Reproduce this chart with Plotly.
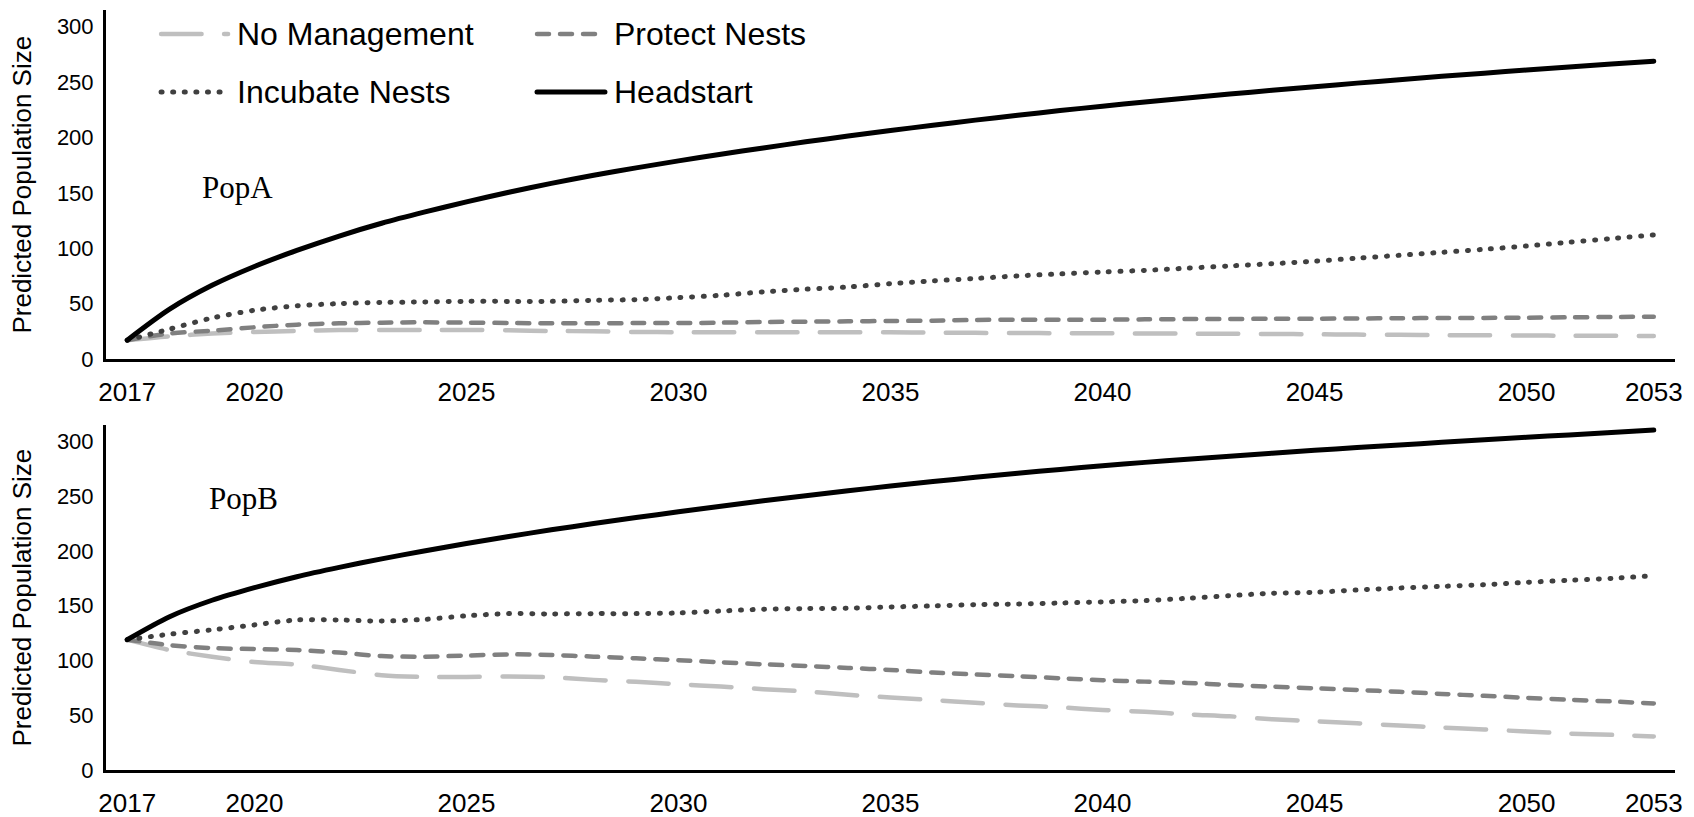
import plotly.graph_objects as go

# Projection years
years = list(range(2017, 2054))
year_ticks = [2017, 2020, 2025, 2030, 2035, 2040, 2045, 2050, 2053]
pop_ticks = [0, 50, 100, 150, 200, 250, 300]

# PopA predicted population size by scenario
popA_no_management = [17, 20.5, 22.9, 24.4, 25.3, 26.2, 26.2, 26.2, 26.2, 25.9, 25.3, 25, 24.4,
                      24.2, 24.1, 24.1, 24.2, 24.1, 24.1, 23.8, 23.6, 23.5, 23.3, 23.2, 23, 22.9,
                      22.8, 22.6, 22.3, 22, 21.8, 21.5, 21.4, 21.2, 21, 20.9, 20.8]
popA_protect = [17, 23, 25.6, 28.6, 31, 32.2, 32.8, 33.1, 32.8, 32.5, 32.2, 32.2, 32.4, 32.4,
                32.8, 33.4, 33.7, 34, 34.3, 34.6, 35.2, 35.5, 35.5, 35.5, 35.8, 36, 36.1, 36.3,
                36.4, 36.6, 36.8, 37, 37.1, 37.3, 37.6, 37.9, 38.2]
popA_incubate = [17, 27, 37, 44, 48, 50, 51, 51.5, 52, 52, 52, 53, 53.6, 55.4, 57.5, 60.6, 63,
                 65, 68, 70.5, 72.7, 75, 76.8, 78.5, 80, 82, 84, 86, 88.3, 91, 93.6, 96.3, 99,
                 102, 105.4, 108.7, 112]
popA_headstart = [17, 45, 66.5, 83.5, 98, 111, 122.5, 132.5, 141.8, 150.5, 158.5, 165.8, 172.5,
                  178.8, 184.8, 190.5, 196, 201.2, 206.2, 211, 215.6, 220, 224.2, 228.2, 232,
                  235.6, 239.1, 242.5, 245.8, 249, 252.1, 255.1, 258, 260.8, 263.5, 266.2, 268.8]

# PopB predicted population size by scenario
popB_no_management = [119, 109.5, 103.5, 98.6, 96.3, 91.4, 86.6, 85, 85, 85.3, 84.7, 82.3, 80.5,
                      78.3, 76.2, 73.8, 71.7, 68.7, 66.2, 63.9, 61.4, 59, 57.2, 54.8, 53.2, 50.8,
                      49, 46.3, 44.5, 42.7, 40.6, 38.8, 37, 35.2, 33.3, 32.1, 30.6]
popB_protect = [119, 114, 111.3, 110.4, 109.5, 107.2, 104, 103.5, 104.5, 105.6, 105, 103.5, 102,
                100.2, 98.4, 96.5, 95, 93.2, 91.4, 89, 87.2, 85.6, 83.8, 82, 80.7, 79.5, 77.7,
                76.1, 74.6, 73.1, 71.4, 69.5, 67.7, 65.9, 64.1, 62.6, 60.8]
popB_incubate = [119, 124, 128, 132.5, 137, 137, 136, 137.5, 140.8, 142.8, 142.5, 142.8, 142.8,
                 143.4, 145.2, 146.8, 147.4, 147.7, 148.9, 149.8, 151, 151.6, 152.5, 153.5,
                 154.7, 156.8, 159.2, 161.4, 162.3, 164.4, 166.2, 167.7, 169.2, 171.4, 173.2,
                 175, 177.4]
popB_headstart = [119, 140, 155, 166.5, 176.5, 185, 192.8, 200, 206.8, 213.2, 219.3, 225, 230.5,
                  235.8, 240.9, 245.8, 250.5, 255, 259.3, 263.4, 267.3, 271, 274.5, 277.8, 280.9,
                  283.8, 286.6, 289.3, 291.9, 294.4, 296.8, 299.2, 301.5, 303.8, 306, 308.2, 310.4]

scenarios = ["No Management", "Protect Nests", "Incubate Nests", "Headstart"]
styles = {
    "No Management": dict(color="#BFBFBF", width=4.5, dash="40.5px,22.5px"),
    "Protect Nests": dict(color="#808080", width=4.5, dash="12px,11px"),
    "Incubate Nests": dict(color="#404040", width=5, dash="1px,10.6px"),
    "Headstart": dict(color="#000000", width=5, dash="solid"),
}
popA = [popA_no_management, popA_protect, popA_incubate, popA_headstart]
popB = [popB_no_management, popB_protect, popB_incubate, popB_headstart]

SANS = "Liberation Sans, Arial, sans-serif"
SERIF = "Liberation Serif, Times New Roman, serif"

fig = go.Figure()
for name, ya in zip(scenarios, popA):
    fig.add_trace(go.Scatter(x=years, y=ya, mode="lines", name=name, line=styles[name],
                             line_shape="spline", line_smoothing=0.8,
                             xaxis="x", yaxis="y", showlegend=False))
for name, yb in zip(scenarios, popB):
    fig.add_trace(go.Scatter(x=years, y=yb, mode="lines", name=name, line=styles[name],
                             line_shape="spline", line_smoothing=0.8,
                             xaxis="x2", yaxis="y2", showlegend=False))

xcommon = dict(range=[2016.5, 2053.5], tickvals=year_ticks, showline=True, linecolor="black",
               linewidth=3, showgrid=False, zeroline=False, ticks="", automargin=False,
               tickfont=dict(family=SANS, size=26, color="black"), ticklabelstandoff=8)
ycommon = dict(range=[0, 315], tickvals=pop_ticks, showline=True, linecolor="black",
               linewidth=3, showgrid=False, zeroline=False, ticks="", automargin=False,
               tickfont=dict(family=SANS, size=22, color="black"), ticklabelstandoff=5)

fig.update_layout(
    width=1694, height=817,
    margin=dict(l=106, r=19, t=10, b=47, autoexpand=False),
    paper_bgcolor="white", plot_bgcolor="white",
    xaxis=dict(domain=[0, 1], anchor="y", **xcommon),
    yaxis=dict(domain=[0.5408, 1], anchor="x", **ycommon),
    xaxis2=dict(domain=[0, 1], anchor="y2", **xcommon),
    yaxis2=dict(domain=[0, 0.4539], anchor="x2", **ycommon),
)

# Axis titles and panel labels
annotations = [
    dict(text="Predicted Population Size", x=-0.0535, y=0.7704, textangle=-90,
         font=dict(family=SANS, size=26, color="black")),
    dict(text="Predicted Population Size", x=-0.0535, y=0.227, textangle=-90,
         font=dict(family=SANS, size=26, color="black")),
    dict(text="PopA", x=0.0835, y=0.767, font=dict(family=SERIF, size=31, color="black")),
    dict(text="PopB", x=0.0876, y=0.3566, font=dict(family=SERIF, size=31, color="black")),
]
for a in annotations:
    a.update(xref="paper", yref="paper", showarrow=False, xanchor="center", yanchor="middle")

# Two-column key in the upper panel
key_rows = {"No Management": (0, 0.9684), "Protect Nests": (1, 0.9684),
            "Incubate Nests": (0, 0.8921), "Headstart": (1, 0.8921)}
key_line_x = [(0.0351, 0.0778), (0.2747, 0.3180)]
key_text_x = [0.0822, 0.3222]
shapes = []
for name in scenarios:
    col, yk = key_rows[name]
    st = styles[name]
    shapes.append(dict(type="line", xref="paper", yref="paper",
                       x0=key_line_x[col][0], x1=key_line_x[col][1], y0=yk, y1=yk,
                       line=dict(color=st["color"], width=st["width"], dash=st["dash"])))
    annotations.append(dict(text=name, x=key_text_x[col], y=yk, xref="paper", yref="paper",
                            showarrow=False, xanchor="left", yanchor="middle",
                            font=dict(family=SANS, size=32, color="black")))

fig.update_layout(annotations=annotations, shapes=shapes)

round_caps = ("var s=document.createElement('style');"
              "s.textContent='.scatterlayer .js-line, .shapelayer path{stroke-linecap:round;}';"
              "document.head.appendChild(s);")
fig.write_html("out.html", post_script=round_caps)
